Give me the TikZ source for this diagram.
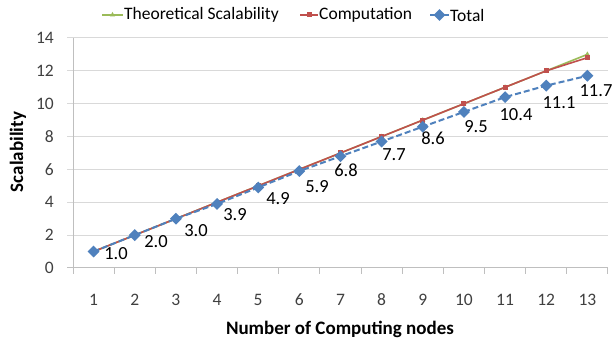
\documentclass[tikz,border=0pt]{standalone}
\usepackage{fontspec}
\setmainfont{Carlito}
\usetikzlibrary{shapes.geometric}
\definecolor{tgreen}{HTML}{9BBB59}
\definecolor{cred}{HTML}{C0504D}
\definecolor{tblue}{HTML}{4F81BD}
\definecolor{gridc}{HTML}{D9D9D9}
\definecolor{axisc}{HTML}{BFBFBF}
\definecolor{tickc}{HTML}{404040}
\begin{document}
\begin{tikzpicture}[x=1pt,y=-1pt,
  gridline/.style={draw=gridc,line width=1pt},
  axisline/.style={draw=axisc,line width=1pt},
  ticklbl/.style={font=\fontsize{17.5}{20}\selectfont,text=tickc,inner sep=0pt},
  titlelbl/.style={font=\bfseries\fontsize{19}{22}\selectfont,text=black,inner sep=0pt},
  legendlbl/.style={font=\fontsize{17.5}{20}\selectfont,text=black,inner sep=0pt,anchor=west},
  datalbl/.style={font=\fontsize{18.5}{21}\selectfont,text=black,inner sep=0pt},
  trimark/.style={regular polygon,regular polygon sides=3,fill=tgreen,minimum size=6pt,inner sep=0pt},
  sqmark/.style={rectangle,fill=cred,minimum size=5pt,inner sep=0pt},
  dmmark/.style={diamond,fill=tblue,minimum size=12pt,inner sep=0pt},
  theoline/.style={draw=tgreen,line width=1.6pt},
  compline/.style={draw=cred,line width=1.6pt},
  totline/.style={draw=tblue,line width=2pt,dash pattern=on 6pt off 3pt}]
\useasboundingbox (0,0) rectangle (613,344);
\fill[white] (0,0) rectangle (613,344);
% grid
\foreach \v in {2,4,...,14}
  \draw[gridline] (67,{268-\v*16.43}) -- (608,{268-\v*16.43});
% axes
\draw[axisline] (73,38) -- (73,268);
\draw[axisline] (67,268) -- (608,268);
\foreach \k in {0,...,13}
  \draw[axisline] ({73+\k*41.15},268) -- ({73+\k*41.15},274);
% y tick labels
\foreach \v in {0,2,...,14}
  \node[ticklbl,anchor=east] (y\v) at (54,{268-\v*16.43}) {\v};
% x tick labels
\foreach \i in {1,...,13}
  \node[ticklbl] (x\i) at ({73+(\i-0.5)*41.15},300) {\i};
% titles
\node[titlelbl] (xtitle) at (340,329) {Number of Computing nodes};
\node[titlelbl,rotate=90] (ytitle) at (18,152) {Scalability};
% coordinates
\foreach \i/\v in {1/1,2/2,3/3,4/4,5/5,6/6,7/7,8/8,9/9,10/10,11/11,12/12,13/13}
  \coordinate (t\i) at ({73+(\i-0.5)*41.15},{268-\v*16.43});
\foreach \i/\v in {1/1,2/2,3/3,4/4,5/5,6/6,7/7,8/8,9/9,10/10,11/11,12/12,13/12.8}
  \coordinate (c\i) at ({73+(\i-0.5)*41.15},{268-\v*16.43});
\foreach \i/\v in {1/1.0,2/2.0,3/3.0,4/3.9,5/4.9,6/5.9,7/6.8,8/7.7,9/8.6,10/9.5,11/10.4,12/11.1,13/11.7}
  \coordinate (s\i) at ({73+(\i-0.5)*41.15},{268-\v*16.43});
% series
\draw[theoline] (t1) -- (t2) -- (t3) -- (t4) -- (t5) -- (t6) -- (t7) -- (t8) -- (t9) -- (t10) -- (t11) -- (t12) -- (t13);
\foreach \i in {1,...,13} \node[trimark] (tm\i) at (t\i) {};
\draw[compline] (c1) -- (c2) -- (c3) -- (c4) -- (c5) -- (c6) -- (c7) -- (c8) -- (c9) -- (c10) -- (c11) -- (c12) -- (c13);
\foreach \i in {1,...,13} \node[sqmark] (cm\i) at (c\i) {};
\draw[totline] (s1) -- (s2) -- (s3) -- (s4) -- (s5) -- (s6) -- (s7) -- (s8) -- (s9) -- (s10) -- (s11) -- (s12) -- (s13);
\foreach \i in {1,...,13} \node[dmmark] (sm\i) at (s\i) {};
% data labels
\node[datalbl] (d1) at (116,254) {1.0};
\node[datalbl] (d2) at (156,242) {2.0};
\node[datalbl] (d3) at (196,231) {3.0};
\node[datalbl] (d4) at (235,215) {3.9};
\node[datalbl] (d5) at (278,199) {4.9};
\node[datalbl] (d6) at (317,187) {5.9};
\node[datalbl] (d7) at (346,170) {6.8};
\node[datalbl] (d8) at (394,155) {7.7};
\node[datalbl] (d9) at (433,138) {8.6};
\node[datalbl] (d10) at (476,127) {9.5};
\node[datalbl] (d11) at (516,115) {10.4};
\node[datalbl] (d12) at (559,103) {11.1};
\node[datalbl] (d13) at (596,91) {11.7};
% legend
\coordinate (la1) at (102,15); \coordinate (lb1) at (123,15);
\draw[theoline] (la1) -- (lb1);
\node[trimark] (lm1) at (112.5,15) {};
\node[legendlbl] (lt1) at (124,15) {Theoretical Scalability};
\coordinate (la2) at (300,15); \coordinate (lb2) at (318,15);
\draw[compline] (la2) -- (lb2);
\node[sqmark] (lm2) at (309,15) {};
\node[legendlbl] (lt2) at (319,15) {Computation};
\coordinate (la3) at (430,15); \coordinate (lb3) at (449,15);
\draw[draw=tblue,line width=2pt] (la3) -- (lb3);
\node[dmmark] (lm3) at (439.5,15) {};
\node[legendlbl] (lt3) at (450,15) {Total};
\end{tikzpicture}
\end{document}
